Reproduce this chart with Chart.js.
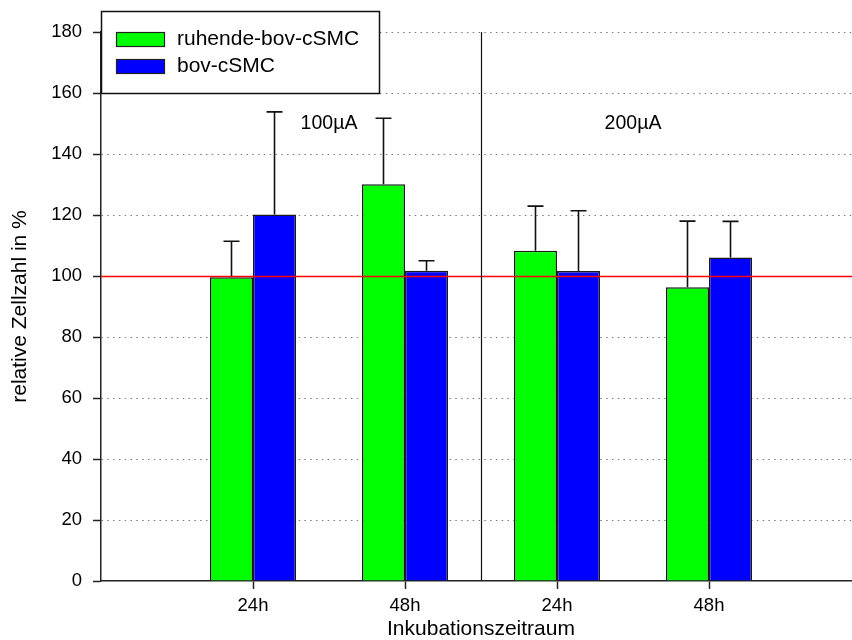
<!DOCTYPE html>
<html>
<head>
<meta charset="utf-8">
<title>relative Zellzahl</title>
<script src="https://cdn.jsdelivr.net/npm/chart.js@4/dist/chart.umd.min.js"></script>
<style>
  html, body { margin: 0; padding: 0; background: #fff; overflow: hidden; }
  #wrap { width: 870px; height: 640px; }
</style>
</head>
<body>
<div id="wrap"><canvas id="c" width="870" height="640"></canvas></div>
<script>
// Incubation times per group (100µA: 24h, 48h | 200µA: 24h, 48h)
const categories = ['24h', '48h', '24h', '48h'];
const seriesNames = ['ruhende-bov-cSMC', 'bov-cSMC'];
// relative cell count in %, with upper error (SD)
const restingValues = [99.6, 130.1, 108.3, 96.3];
const restingErrors = [11.8, 21.6, 14.6, 21.7];
const activeValues  = [120.2, 101.7, 101.6, 106.1];
const activeErrors  = [33.6, 3.3, 19.8, 11.8];
const yTicks = [0, 20, 40, 60, 80, 100, 120, 140, 160, 180];
const doseLabels = ['100µA', '200µA'];
const referenceLevel = 100;

const FONT = "'Liberation Sans', Arial, Helvetica, sans-serif";
Chart.defaults.font.family = FONT;
Chart.defaults.color = '#000';

// one empty slot on each side of the four incubation times
const labels = [''].concat(categories, ['']);
const pad = arr => [null].concat(arr, [null]);

const overlay = {
  id: 'overlay',
  afterDatasetsDraw(chart) {
    const { ctx, chartArea: a, scales: { x, y } } = chart;
    ctx.save();
    // error bars (upper only)
    chart.data.datasets.forEach((ds, di) => {
      const meta = chart.getDatasetMeta(di);
      meta.data.forEach((bar, i) => {
        const v = ds.data[i];
        const e = ds.errors[i];
        if (v == null || e == null) return;
        const px = bar.x;
        const y0 = y.getPixelForValue(v);
        const y1 = y.getPixelForValue(v + e);
        ctx.strokeStyle = '#111';
        ctx.lineWidth = 1.6;
        ctx.beginPath();
        ctx.moveTo(px, y0);
        ctx.lineTo(px, y1);
        ctx.moveTo(px - 8, y1);
        ctx.lineTo(px + 8, y1);
        ctx.stroke();
      });
    });
    // reference line at 100 %
    const yr = Math.round(y.getPixelForValue(referenceLevel)) + 0.5;
    ctx.strokeStyle = '#ff0000';
    ctx.lineWidth = 1.3;
    ctx.beginPath();
    ctx.moveTo(a.left, yr);
    ctx.lineTo(a.right, yr);
    ctx.stroke();
    // divider between the two dose groups
    const half = (categories.length + 1) / 2;
    const xd = Math.round(x.getPixelForValue(half)) + 0.5;
    ctx.strokeStyle = '#111';
    ctx.lineWidth = 1.2;
    ctx.beginPath();
    ctx.moveTo(xd, a.top);
    ctx.lineTo(xd, a.bottom);
    ctx.stroke();
    // dose labels centred over each group
    ctx.fillStyle = '#000';
    ctx.font = '19.5px ' + FONT;
    ctx.textAlign = 'center';
    ctx.textBaseline = 'middle';
    const perGroup = categories.length / doseLabels.length;
    doseLabels.forEach((t, g) => {
      const c = 1 + g * perGroup + (perGroup - 1) / 2;
      ctx.fillText(t, x.getPixelForValue(c), y.getPixelForValue(150));
    });
    ctx.restore();
  },
  afterDraw(chart) {
    const { ctx, chartArea: a } = chart;
    ctx.save();
    const bx = a.left + 0.5, by = 11.5, bw = 278, bh = 82;
    ctx.fillStyle = '#fff';
    ctx.fillRect(bx, by, bw, bh);
    ctx.strokeStyle = '#111';
    ctx.lineWidth = 1.5;
    ctx.strokeRect(bx, by, bw, bh);
    ctx.font = '21px ' + FONT;
    ctx.textAlign = 'left';
    ctx.textBaseline = 'middle';
    chart.data.datasets.forEach((ds, i) => {
      const sy = 32 + i * 27;
      ctx.fillStyle = ds.backgroundColor;
      ctx.fillRect(a.left + 15, sy, 48, 14);
      ctx.strokeStyle = '#222';
      ctx.lineWidth = 1.2;
      ctx.strokeRect(a.left + 15.5, sy + 0.5, 48, 14);
      ctx.fillStyle = '#000';
      ctx.fillText(ds.label, a.left + 76, sy + 7.5);
    });
    ctx.restore();
  }
};

new Chart(document.getElementById('c'), {
  type: 'bar',
  data: {
    labels: labels,
    datasets: [
      { label: seriesNames[0], data: pad(restingValues), errors: pad(restingErrors),
        backgroundColor: '#00ff00', borderColor: '#1a1a1a', borderWidth: 1.5 },
      { label: seriesNames[1], data: pad(activeValues), errors: pad(activeErrors),
        backgroundColor: '#0000ff', borderColor: '#1a1a1a', borderWidth: 1.5 }
    ]
  },
  options: {
    responsive: false,
    devicePixelRatio: 1,
    animation: false,
    categoryPercentage: 0.566,
    barPercentage: 1.0,
    layout: { padding: { top: 32, right: 9, left: 0, bottom: 0 } },
    plugins: { legend: { display: false }, tooltip: { enabled: false } },
    scales: {
      x: {
        type: 'category',
        offset: false,
        grid: {
          offset: false,
          drawOnChartArea: false,
          drawTicks: true,
          tickLength: 8,
          tickWidth: 1.5,
          tickColor: c => (c.index === 0 || c.index === labels.length - 1) ? 'rgba(0,0,0,0)' : '#222'
        },
        border: { display: true, color: '#222', width: 1.5 },
        ticks: { font: { size: 18.5 }, color: '#000', padding: 6, maxRotation: 0, autoSkip: false },
        title: { display: true, text: 'Inkubationszeitraum', font: { size: 21, lineHeight: 1.0 },
                 color: '#000', padding: { top: 0, bottom: 0 } },
        afterFit: s => { s.height = 59; }
      },
      y: {
        min: yTicks[0],
        max: yTicks[yTicks.length - 1],
        afterBuildTicks: s => { s.ticks = yTicks.map(v => ({ value: v })); },
        ticks: { font: { size: 18.5 }, color: '#000', padding: 11, callback: v => String(v) },
        grid: {
          color: c => (c.tick && c.tick.value === 0) ? 'rgba(0,0,0,0)' : '#7a7a7a',
          lineWidth: 1,
          tickColor: '#222',
          tickLength: 8,
          tickWidth: 1.5
        },
        border: { display: true, color: '#222', width: 1.5, dash: [1.5, 4.3] },
        title: { display: true, text: 'relative Zellzahl in %', font: { size: 21 },
                 color: '#000', padding: { top: 8, bottom: 0 } },
        afterFit: s => { s.width = 101; }
      }
    }
  },
  plugins: [overlay]
});
</script>
</body>
</html>
